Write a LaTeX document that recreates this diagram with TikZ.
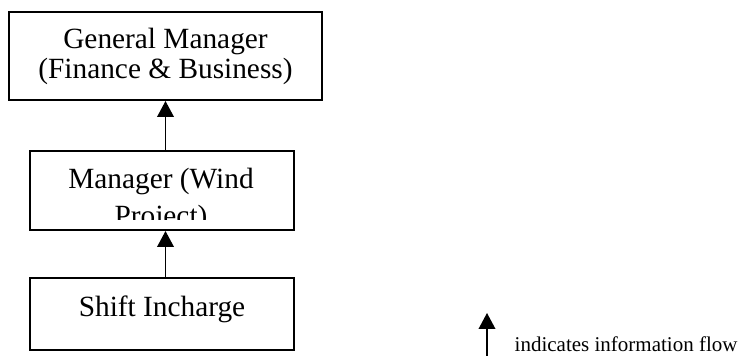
\documentclass[tikz,border=0pt]{standalone}
\usepackage{fontspec}
\setmainfont{Liberation Serif}
\usetikzlibrary{arrows.meta}

\tikzset{
  post/.style={draw, line width=1.5pt, inner sep=0pt, align=center,
    font=\fontsize{22}{22.5}\selectfont},
  flow/.style={-{Triangle[length=12pt,width=12.5pt]}, line width=1.2pt}
}

\begin{document}
\begin{tikzpicture}[x=0.75pt, y=-0.75pt]
\useasboundingbox (0,0) rectangle (740,356);
% boites
\node[post, minimum width=234.75pt, minimum height=66pt] (gm) at (165.5,56)
  {General Manager\\(Finance \& Business)};
\node[post, minimum width=198pt, minimum height=59.25pt] (mgr) at (162,190.5) {};
\node[post, minimum width=198pt, minimum height=54pt] (shift) at (162,314) {};
% textes
\begin{scope}
\clip (mgr.north west) rectangle (294,220);
\node[align=center, font=\fontsize{22}{27.75}\selectfont, anchor=base]
  (mgrtext) at (161,226) {Manager (Wind\\Project)};
\end{scope}
\node[font=\fontsize{22}{22.5}\selectfont, anchor=base] (shifttext) at (162,317) {Shift Incharge};
% fleches
\draw[flow] (mgr.north -| gm.south) -- (gm.south);
\draw[flow] (shift.north -| gm.south) -- (mgr.south -| gm.south);
% legende
\coordinate (legbot) at (487,356);
\coordinate (legtop) at (487,313);
\draw[flow] (legbot) -- (legtop);
\node[font=\fontsize{15.75}{18}\selectfont, anchor=base west] (legtext) at (510,352)
  {indicates information flow};
\end{tikzpicture}
\end{document}
